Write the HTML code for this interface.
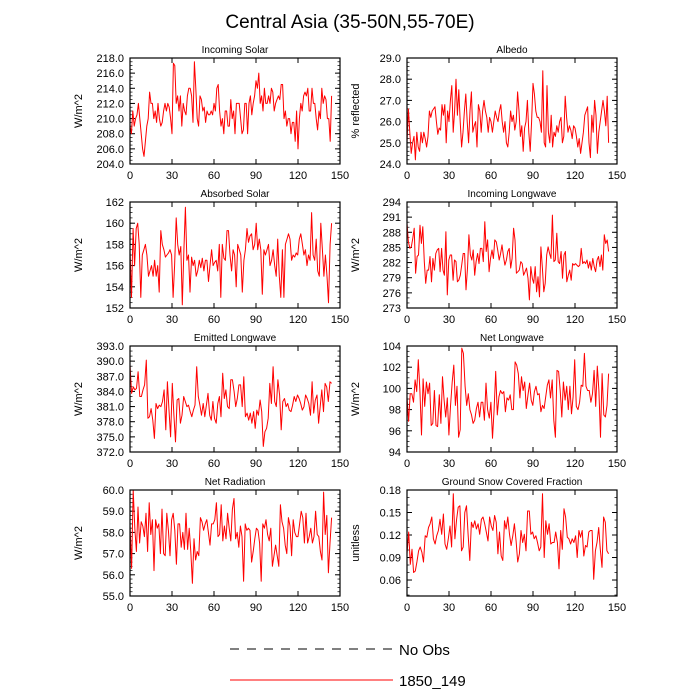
<!DOCTYPE html>
<html><head><meta charset="utf-8"><style>
html,body{margin:0;padding:0;background:#fff}
svg{display:block;font-family:"Liberation Sans",sans-serif}
</style></head><body>
<svg id="chart" width="700" height="700" viewBox="0 0 700 700">
<text x="350" y="28" text-anchor="middle" font-size="19">Central Asia (35-50N,55-70E)</text>
<g>
<line x1="230" y1="649" x2="392" y2="649" stroke="#000" stroke-width="1" stroke-dasharray="9,8"/>
<text x="399" y="655" font-size="15">No Obs</text>
<line x1="230" y1="680" x2="393" y2="680" stroke="#f00" stroke-width="1"/>
<text x="399" y="686" font-size="15">1850_149</text>
</g>
</svg>
<script>
const solar=[209,208,211,209,210,210.5,212,210,208,206,205,207,209,210,213.5,212,212,210,211,209.5,212,210,209,209.5,211,212,211,212,211.5,210,208,217.3,217,212,213,211,213,209,212,211,210.5,213,214,214,213,209.5,217.5,214,210,209,213,212.5,211,211.5,209.5,211,210.5,210.5,211,210.5,212,211,214,214.5,211,209,210,208,211,211,209,209,212.5,210,211,208,212,212,212,210,208,208.5,212,212,208,212,213,210.5,212,213,215,214,216,212,213,211,214,212,212,213,212,214,213.5,211,212,212.5,213,212.5,214.5,214.5,210,211,209,210,210,208,209.5,209.5,207,211,206,210,212,211,213,213.5,213,214,211,211,214,212,212,210,208.5,211,210,214,212,213,212.5,210,210,207,213];
const albedo=[25,26.6,25.5,24.5,25,25.3,24.2,25.5,24.8,24.6,25.5,25,25.5,25.2,24.8,25.3,26.5,26.2,26.5,26.6,26.7,26,25.4,25.7,25.6,26.8,26.3,26.8,25,26.5,26,27,27.7,25.5,26.5,28,26.3,27.5,26,24.8,25.5,26.5,27.3,26,25,26.5,27.4,25.5,25.8,26,24.8,26.8,26.5,25.5,26.5,27,26.5,26.2,25.5,26.2,26,25.5,26,26.5,26.2,26,26.5,26.8,26,25.5,26,25,24.8,25.5,26.5,26,26.3,25.6,26,27.4,26.5,25.3,25.8,24.6,25.7,26,27,25.5,24.6,26,27.8,27.3,26.5,26.2,26.2,26,25.5,28.4,25,24.8,27.7,25.5,25,26.3,24.8,25.5,25.3,25.8,25.5,26,26.2,25,25.3,27.2,26.2,25.5,25.8,25.6,25.2,25.8,25.7,25.3,24.8,25.2,24.5,25,25.5,26.3,26.5,26.7,25,24.3,26.3,25.5,27,26.3,24.5,25.5,26,26.5,27,26.5,25.8,27.2,25];
const absorbed=[157.5,153,159.5,156,159.5,160,158,153,157,157.5,158,157,155,155.5,156,155,156.5,155,156,153.5,159.3,158,157.5,156.8,157,157.2,157.5,157,153,156,160.5,158,157,157.8,152.3,157.5,161.5,156.5,157,153.5,156.8,156,156.5,155,155.5,156.5,155.8,156.7,155.5,156.5,156.5,154.5,156,157.5,156,156.3,156.5,155.5,158,153,158,156.7,156.5,159.3,159.3,157,155.5,157.5,157,154,158,157.5,157,153.5,156.5,157.5,159.5,158.2,158.8,159,157.5,158,160,157.5,158.5,157.5,153.3,157.5,157,157.5,158,156,156.5,157.5,156,155,158.5,155,153,157.5,153,158,158.5,159,158.5,156.5,157,156.8,157.2,157,158.5,159,158,157,157.5,156,157,156.5,161,157,156.5,158.5,155.5,155,160,157.5,155,157,155,152.5,158,160];
const incomingLW=[289.8,286.1,284.8,285.1,286.8,288.8,279.9,283.2,283.5,289.4,285.8,289.1,282.2,277.9,280.5,280.5,283.2,278.2,282.8,280.5,283.8,284.5,284.8,280.2,284.8,280.5,279.5,288.1,275.6,282.5,283.5,283.5,278.5,282.5,282.2,278.2,278.5,279.5,281.5,283.8,283.8,276.6,280.9,287.5,283.5,282.5,284.5,279.5,282.2,283.8,281.8,284.8,284.8,282.2,290.1,284.2,286.5,280.2,282.8,284.5,282.8,286.5,286.1,284.5,282.5,283.8,285.5,283.2,281.5,282.5,284.2,284.8,280.9,282.8,288.8,286.5,279.9,280.2,280.5,282.2,281.8,279.5,280.2,280.9,278.9,274.6,281.2,278.9,277.9,281.2,276.2,279.2,275.2,285.1,280.9,276.2,277.9,283.5,285.1,283.8,282.8,291.4,282.2,282.5,287.8,282.2,281.8,284.2,278.9,283.5,284.2,278.2,279.5,280.5,278.5,281.8,281.5,281.8,281.5,281.2,281.5,284.8,281.8,282.2,281.8,282.5,280.9,282.2,280.5,282.8,281.2,280.2,282.5,283.2,281.2,283.5,280.5,287.5,285.8,286.5,284.2];
const emitted=[389.2,383.6,384.9,384.3,384.6,387.9,383,383,384.3,385.3,390.2,378.7,379,380.6,378.3,374.7,381.6,380.6,381.3,381,382,384.3,376.4,385.9,380.3,375,385.6,379.3,374,382.3,382.6,377.7,379.3,383,382,381,381.3,380,379,380.3,381.3,388.9,383,381.3,379.3,381.6,379,381.3,383.6,379.3,378.3,382,378.7,377.7,381.6,383,379,387.6,382.6,384.3,381,380.6,386.3,386.3,384,381,382.6,385.3,385.3,381,386.9,379,379.7,378.3,379.7,377.7,380,376.7,380.3,379.3,382.3,380,373.1,376,376.7,378.7,385.6,381.6,388.9,382,381,386.3,383.3,376.4,382,382.6,381,381.6,380.3,380,381.3,383,382,383.3,382.6,381.6,380.3,381,383.3,382.6,381.6,379.3,385.9,379.7,382.3,383.3,377.7,381,384.3,380,385.6,384.9,382,385.9,385.6];
const netLW=[99.2,96.9,99.5,99.5,98.7,100.8,99.7,102.7,99.8,95.6,100.9,98.3,100.6,99.5,100.5,96.5,96.7,99.8,96.5,96.4,99.4,96.7,101.1,98.9,97.3,99.1,95.6,98.3,100.6,102.2,98.4,100.2,95.4,96.1,103.8,103.3,100.2,98.4,99.5,98,97.5,96.7,97,98.1,98.7,97.3,98.7,98.7,97,100.5,98,97.2,98.7,95.3,98,101.6,97.5,99.2,99.8,99.5,99.7,97.8,99.1,98.9,99.4,98,98,102.5,102.2,101.4,99.1,101.1,99.8,100.6,98.1,99.4,100.5,98.9,98.4,99.7,100.2,99.4,99.5,97.8,98.4,98.1,99.2,100.3,100.8,99.1,100.8,97,95.4,101.7,101.6,99.8,97.3,100.6,98.9,100.2,98,100.2,97.6,99.2,102.7,98.3,98,98.7,100.3,100.2,103.3,100.2,99.8,99.8,98.7,99.5,101.7,98.3,102.1,99.8,95.4,101.4,97.5,97.3,98.4,101.4];
const netRad=[58.4,56.3,60,58.2,57.1,59.2,57.5,58.5,58.3,57.8,58.9,57.1,59.4,57.9,58.6,56.2,58.6,58.2,58.4,57,59.1,57,56.9,58.9,58.1,56.9,58.6,58.9,58.1,56.5,58.4,58.4,57.3,58,57.2,58.9,57.2,58.2,57.1,55.6,57.7,56.7,57.1,56.9,58.7,58.5,58.1,58.4,58.6,58,57.4,58.4,58.4,58.6,59.4,57.8,57.9,59.3,57.6,58.3,57.7,58.9,58.2,57.6,59.1,59.6,57.7,58,57.3,58.3,57.8,55.7,58.4,58.1,58.2,58.1,56.6,57.1,57.7,58.2,58.1,57.5,55.7,58.4,58.2,58.6,57.9,57.6,58.2,56.4,56.9,57.4,56.9,56.4,59.3,58.5,58.2,57.4,57,58.7,58.3,56.9,58.6,58,57.8,57.8,58.4,59,58.7,57.5,58.9,57.5,57.8,58.2,57.5,57.8,59,57.9,57.8,57.1,56.7,59.9,57.9,58.8,56.1,57.5,58.7];
const snow=[.095,.124,.081,.101,.070,.072,.084,.099,.104,.097,.084,.119,.117,.130,.135,.144,.115,.108,.119,.126,.141,.121,.148,.108,.101,.115,.132,.104,.175,.115,.141,.157,.159,.099,.104,.150,.159,.121,.086,.137,.130,.139,.128,.135,.121,.141,.144,.135,.124,.112,.144,.132,.126,.146,.137,.095,.124,.092,.086,.139,.128,.144,.121,.106,.119,.135,.112,.084,.095,.126,.110,.121,.099,.152,.152,.121,.124,.115,.119,.110,.099,.104,.175,.090,.139,.121,.135,.108,.110,.110,.124,.110,.075,.126,.101,.155,.144,.117,.115,.108,.115,.110,.119,.090,.126,.117,.126,.092,.106,.104,.124,.126,.126,.061,.099,.110,.130,.101,.077,.144,.137,.099,.095];

const xTicks=[0,30,60,90,120,150];
const panels=[
 {name:'incoming-solar',title:'Incoming Solar',yl:'W/m^2',data:solar,min:204,max:218,ticks:[204,206,208,210,212,214,216,218],dec:1,minor:0.5,col:0,row:0},
 {name:'albedo',title:'Albedo',yl:'% reflected',data:albedo,min:24,max:29,ticks:[24,25,26,27,28,29],dec:1,minor:0.2,col:1,row:0},
 {name:'absorbed-solar',title:'Absorbed Solar',yl:'W/m^2',data:absorbed,min:152,max:162,ticks:[152,154,156,158,160,162],dec:0,minor:0.5,col:0,row:1},
 {name:'incoming-longwave',title:'Incoming Longwave',yl:'W/m^2',data:incomingLW,min:273,max:294,ticks:[273,276,279,282,285,288,291,294],dec:0,minor:1,col:1,row:1},
 {name:'emitted-longwave',title:'Emitted Longwave',yl:'W/m^2',data:emitted,min:372,max:393,ticks:[372,375,378,381,384,387,390,393],dec:1,minor:1,col:0,row:2},
 {name:'net-longwave',title:'Net Longwave',yl:'W/m^2',data:netLW,min:94,max:104,ticks:[94,96,98,100,102,104],dec:0,minor:0.5,col:1,row:2},
 {name:'net-radiation',title:'Net Radiation',yl:'W/m^2',data:netRad,min:55,max:60,ticks:[55,56,57,58,59,60],dec:1,minor:0.2,col:0,row:3},
 {name:'snow-fraction',title:'Ground Snow Covered Fraction',yl:'unitless',data:snow,min:0.0387,max:0.18,ticks:[0.06,0.09,0.12,0.15,0.18],dec:2,minor:0.01,col:1,row:3}
];
const NS='http://www.w3.org/2000/svg';
const svg=document.getElementById('chart');
function mk(tag,attrs,parent){const e=document.createElementNS(NS,tag);for(const k in attrs)e.setAttribute(k,attrs[k]);parent.appendChild(e);return e;}
const lefts=[130,407],tops=[58,202,346,490],W=210,H=106;
panels.forEach(p=>{
 const L=lefts[p.col],T=tops[p.row],B=T+H,R=L+W;
 const xs=v=>L+v/150*W;
 const ys=v=>B-(v-p.min)/(p.max-p.min)*H;
 const g=mk('g',{},svg);
 
 
 const t=mk('text',{x:L+W/2,y:T-5,'text-anchor':'middle','font-size':10},g);
 t.textContent=p.title;
 
 
 const yt=mk('text',{x:0,y:0,'text-anchor':'middle','font-size':11,transform:`translate(${L-48},${T+H/2}) rotate(-90)`},g);
 yt.textContent=p.yl;
 
 
 const m0=Math.ceil(p.min/p.minor-1e-6);
 for(let k=m0;k*p.minor<=p.max+1e-9;k++){const y=ys(k*p.minor);
  mk('line',{x1:L,x2:L+2.5,y1:y,y2:y,stroke:'#000','stroke-width':0.7},g);
  mk('line',{x1:R,x2:R-2.5,y1:y,y2:y,stroke:'#000','stroke-width':0.7},g);}
 p.ticks.forEach(v=>{const y=ys(v);
  mk('line',{x1:L,x2:L+5,y1:y,y2:y,stroke:'#000','stroke-width':1},g);
  mk('line',{x1:R,x2:R-5,y1:y,y2:y,stroke:'#000','stroke-width':1},g);
  const lb=mk('text',{x:L-6,y:y+4,'text-anchor':'end','font-size':11},g);
  lb.textContent=v.toFixed(p.dec);
  
  
 });
 xTicks.forEach(v=>{const x=xs(v);
  mk('line',{x1:x,x2:x,y1:B,y2:B-5,stroke:'#000','stroke-width':1},g);
  mk('line',{x1:x,x2:x,y1:T,y2:T+5,stroke:'#000','stroke-width':1},g);
  const lb=mk('text',{x:x,y:B+15,'text-anchor':'middle','font-size':11},g);
  lb.textContent=v;
  
  
 });
 const n=p.data.length;
 const pts=p.data.map((v,i)=>xs(i*144/(n-1)).toFixed(1)+','+ys(v).toFixed(1)).join(' ');
 const pl=mk('polyline',{points:pts,fill:'none',stroke:'#f00','stroke-width':1,'stroke-linejoin':'round'},g);
 
 
 const fr=mk('rect',{x:L,y:T,width:W,height:H,fill:'none',stroke:'#000','stroke-width':1.2},g);
 
 
});
</script>
</body></html>
